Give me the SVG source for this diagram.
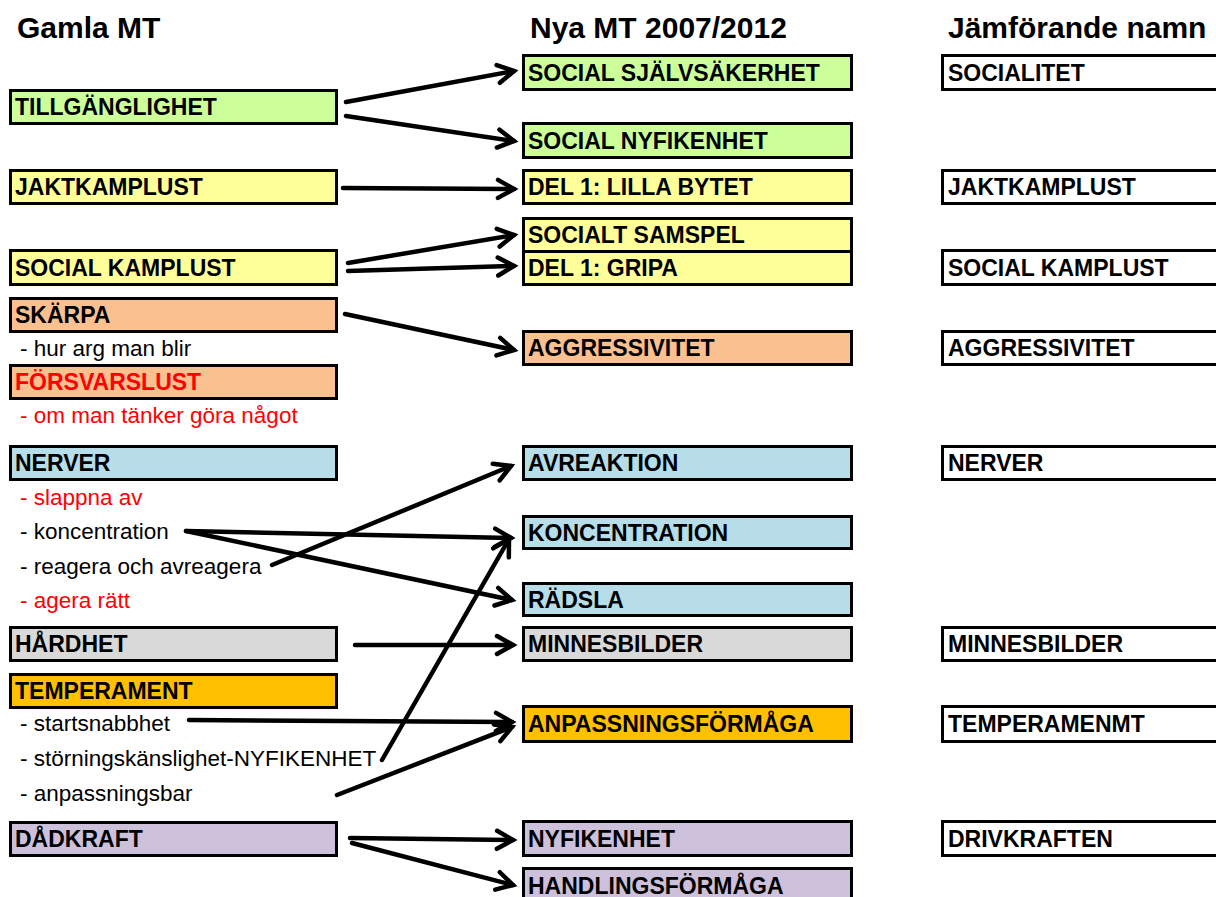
<svg xmlns="http://www.w3.org/2000/svg" width="1216" height="897" viewBox="0 0 1216 897">
<style>
.hdr{font-family:"Liberation Sans",Arial,sans-serif;font-weight:bold;font-size:30px;fill:#000}
.lbl{font-family:"Liberation Sans",Arial,sans-serif;font-weight:bold;font-size:23px;fill:#000}
.sub{font-family:"Liberation Sans",Arial,sans-serif;font-size:22.5px;fill:#000}
.red{fill:#ff0000}
.box{stroke:#000;stroke-width:3}
.g{fill:#ccff99}.y{fill:#ffff99}.o{fill:#fac090}.b{fill:#b7dde8}.gr{fill:#d9d9d9}.t{fill:#ffc000}.p{fill:#ccc0da}.w{fill:#fff}
.conn line{stroke:#000;stroke-width:4.5;stroke-linecap:round;marker-end:url(#arr)}
</style>
<defs>
<marker id="arr" markerUnits="userSpaceOnUse" viewBox="-25 -15 30 30" markerWidth="30" markerHeight="30" refX="0" refY="0" orient="auto" overflow="visible">
<path d="M-16,-9 L0,0 L-16,9" fill="none" stroke="#000" stroke-width="4.5" stroke-linecap="round" stroke-linejoin="miter"/>
</marker>
</defs>
<rect width="1216" height="897" fill="#fff"/>
<g id="headers">
<text class="hdr" x="17" y="38">Gamla MT</text>
<text class="hdr" x="530" y="38">Nya MT 2007/2012</text>
<text class="hdr" x="948" y="38">Jämförande namn</text>
</g>
<!-- Left column -->
<g id="old-tillganglighet"><rect class="box g" x="10.5" y="90.5" width="326" height="33"/><text class="lbl" x="15" y="115">TILLGÄNGLIGHET</text></g>
<g id="old-jaktkamplust"><rect class="box y" x="10.5" y="170.5" width="326" height="33"/><text class="lbl" x="15" y="195">JAKTKAMPLUST</text></g>
<g id="old-socialkamplust"><rect class="box y" x="10.5" y="250.5" width="326" height="34"/><text class="lbl" x="15" y="276">SOCIAL KAMPLUST</text></g>
<g id="old-skarpa"><rect class="box o" x="10.5" y="298.5" width="326" height="33"/><text class="lbl" x="15" y="323">SKÄRPA</text><text class="sub" x="20" y="356">- hur arg man blir</text></g>
<g id="old-forsvarslust"><rect class="box o" x="10.5" y="365.5" width="326" height="33"/><text class="lbl red" x="15" y="390">FÖRSVARSLUST</text><text class="sub red" x="20" y="423">- om man tänker göra något</text></g>
<g id="old-nerver"><rect class="box b" x="10.5" y="446.5" width="326" height="33"/><text class="lbl" x="15" y="471">NERVER</text>
<text class="sub red" x="20" y="505">- slappna av</text>
<text class="sub" x="20" y="539">- koncentration</text>
<text class="sub" x="20" y="574">- reagera och avreagera</text>
<text class="sub red" x="20" y="608">- agera rätt</text></g>
<g id="old-hardhet"><rect class="box gr" x="10.5" y="627.5" width="326" height="33"/><text class="lbl" x="15" y="652">HÅRDHET</text></g>
<g id="old-temperament"><rect class="box t" x="10.5" y="674.5" width="326" height="33"/><text class="lbl" x="15" y="699">TEMPERAMENT</text>
<text class="sub" x="20" y="731">- startsnabbhet</text>
<text class="sub" x="20" y="766">- störningskänslighet-NYFIKENHET</text>
<text class="sub" x="20" y="801">- anpassningsbar</text></g>
<g id="old-dadkraft"><rect class="box p" x="10.5" y="822.5" width="326" height="33"/><text class="lbl" x="15" y="847">DÅDKRAFT</text></g>
<!-- Middle column -->
<g id="new-socialsjalvsakerhet"><rect class="box g" x="523.5" y="55.5" width="328" height="34"/><text class="lbl" x="528" y="81">SOCIAL SJÄLVSÄKERHET</text></g>
<g id="new-socialnyfikenhet"><rect class="box g" x="523.5" y="123.5" width="328" height="34"/><text class="lbl" x="528" y="149">SOCIAL NYFIKENHET</text></g>
<g id="new-lillabytet"><rect class="box y" x="523.5" y="170.5" width="328" height="33"/><text class="lbl" x="528" y="195">DEL 1: LILLA BYTET</text></g>
<g id="new-socialtsamspel"><rect class="box y" x="523.5" y="218.5" width="328" height="33"/><text class="lbl" x="528" y="243">SOCIALT SAMSPEL</text></g>
<g id="new-gripa"><rect class="box y" x="523.5" y="251.5" width="328" height="33"/><text class="lbl" x="528" y="276">DEL 1: GRIPA</text></g>
<g id="new-aggressivitet"><rect class="box o" x="523.5" y="331.5" width="328" height="33"/><text class="lbl" x="528" y="356">AGGRESSIVITET</text></g>
<g id="new-avreaktion"><rect class="box b" x="523.5" y="446.5" width="328" height="33"/><text class="lbl" x="528" y="471">AVREAKTION</text></g>
<g id="new-koncentration"><rect class="box b" x="523.5" y="516.5" width="328" height="32"/><text class="lbl" x="528" y="541">KONCENTRATION</text></g>
<g id="new-radsla"><rect class="box b" x="523.5" y="583.5" width="328" height="32"/><text class="lbl" x="528" y="608">RÄDSLA</text></g>
<g id="new-minnesbilder"><rect class="box gr" x="523.5" y="627.5" width="328" height="33"/><text class="lbl" x="528" y="652">MINNESBILDER</text></g>
<g id="new-anpassningsformaga"><rect class="box t" x="523.5" y="706.5" width="328" height="35"/><text class="lbl" x="528" y="732">ANPASSNINGSFÖRMÅGA</text></g>
<g id="new-nyfikenhet"><rect class="box p" x="523.5" y="821.5" width="328" height="34"/><text class="lbl" x="528" y="847">NYFIKENHET</text></g>
<g id="new-handlingsformaga"><rect class="box p" x="523.5" y="868.5" width="328" height="34"/><text class="lbl" x="528" y="894">HANDLINGSFÖRMÅGA</text></g>
<!-- Right column -->
<g id="cmp-socialitet"><rect class="box w" x="942.5" y="55.5" width="300" height="34"/><text class="lbl" x="948" y="81">SOCIALITET</text></g>
<g id="cmp-jaktkamplust"><rect class="box w" x="942.5" y="170.5" width="300" height="33"/><text class="lbl" x="948" y="195">JAKTKAMPLUST</text></g>
<g id="cmp-socialkamplust"><rect class="box w" x="942.5" y="250.5" width="300" height="34"/><text class="lbl" x="948" y="276">SOCIAL KAMPLUST</text></g>
<g id="cmp-aggressivitet"><rect class="box w" x="942.5" y="331.5" width="300" height="33"/><text class="lbl" x="948" y="356">AGGRESSIVITET</text></g>
<g id="cmp-nerver"><rect class="box w" x="942.5" y="446.5" width="300" height="33"/><text class="lbl" x="948" y="471">NERVER</text></g>
<g id="cmp-minnesbilder"><rect class="box w" x="942.5" y="627.5" width="300" height="33"/><text class="lbl" x="948" y="652">MINNESBILDER</text></g>
<g id="cmp-temperamenmt"><rect class="box w" x="942.5" y="706.5" width="300" height="35"/><text class="lbl" x="948" y="732">TEMPERAMENMT</text></g>
<g id="cmp-drivkraften"><rect class="box w" x="942.5" y="821.5" width="300" height="34"/><text class="lbl" x="948" y="847">DRIVKRAFTEN</text></g>
<!-- Connectors -->
<g id="connectors" class="conn">
<line x1="346" y1="102" x2="514" y2="71"/>
<line x1="346" y1="116" x2="514" y2="141"/>
<line x1="343" y1="188" x2="514" y2="189"/>
<line x1="348" y1="263" x2="514" y2="235"/>
<line x1="348" y1="271" x2="514" y2="266"/>
<line x1="345" y1="314" x2="514" y2="350"/>
<line x1="186" y1="531" x2="511" y2="538"/>
<line x1="186" y1="531" x2="512" y2="600"/>
<line x1="272" y1="565" x2="511" y2="466"/>
<line x1="355" y1="645" x2="513" y2="645"/>
<line x1="189" y1="720" x2="512" y2="722"/>
<line x1="382" y1="760" x2="509" y2="539"/>
<line x1="337" y1="795" x2="512" y2="727"/>
<line x1="350" y1="838" x2="513" y2="840"/>
<line x1="352" y1="843" x2="513" y2="885"/>
</g>
</svg>
